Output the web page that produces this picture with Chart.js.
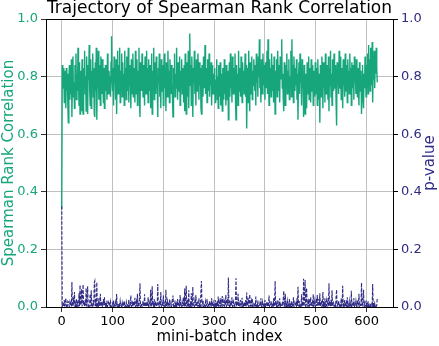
<!DOCTYPE html>
<html>
<head>
<meta charset="utf-8">
<script src="https://cdn.jsdelivr.net/npm/chart.js@4/dist/chart.umd.min.js"></script>
<style>
  html, body { margin: 0; padding: 0; background: #fff; }
  #wrap { width: 439px; height: 346px; }
</style>
</head>
<body>
<div id="wrap"><canvas id="rankChart" width="439" height="346"></canvas></div>
<script>
// values, one per mini-batch
const spearman = [
  0.34, 0.84, 0.80, 0.76, 0.83, 0.71, 0.82, 0.78, 0.69, 0.83, 0.75, 0.81, 0.70, 0.64, 0.79, 0.84, 0.72, 0.80, 0.74, 0.86,
  0.66, 0.80, 0.87, 0.73, 0.78, 0.69, 0.84, 0.77, 0.88, 0.72, 0.81, 0.75, 0.90, 0.79, 0.70, 0.85, 0.67, 0.82, 0.76, 0.68,
  0.86, 0.71, 0.67, 0.83, 0.77, 0.89, 0.74, 0.80, 0.68, 0.87, 0.72, 0.67, 0.84, 0.79, 0.91, 0.75, 0.70, 0.86, 0.69, 0.82,
  0.78, 0.88, 0.73, 0.83, 0.67, 0.66, 0.85, 0.75, 0.90, 0.65, 0.80, 0.76, 0.89, 0.72, 0.84, 0.79, 0.70, 0.87, 0.81, 0.74,
  0.86, 0.77, 0.71, 0.83, 0.69, 0.79, 0.84, 0.75, 0.81, 0.72, 0.88, 0.78, 0.74, 0.82, 0.76, 0.80, 0.73, 0.85, 0.94, 0.79,
  0.75, 0.83, 0.70, 0.87, 0.78, 0.81, 0.72, 0.86, 0.67, 0.80, 0.89, 0.74, 0.84, 0.77, 0.90, 0.71, 0.82, 0.79, 0.88, 0.73,
  0.85, 0.76, 0.81, 0.70, 0.89, 0.78, 0.83, 0.72, 0.87, 0.80, 0.75, 0.90, 0.71, 0.84, 0.77, 0.82, 0.69, 0.86, 0.79, 0.74,
  0.88, 0.73, 0.83, 0.78, 0.71, 0.89, 0.80, 0.74, 0.86, 0.70, 0.82, 0.77, 0.90, 0.72, 0.66, 0.85, 0.79, 0.75, 0.88, 0.81,
  0.73, 0.84, 0.78, 0.70, 0.87, 0.80, 0.74, 0.89, 0.76, 0.83, 0.71, 0.86, 0.79, 0.75, 0.84, 0.69, 0.81, 0.88, 0.67, 0.82,
  0.77, 0.90, 0.72, 0.85, 0.79, 0.74, 0.87, 0.81, 0.76, 0.66, 0.83, 0.78, 0.88, 0.73, 0.82, 0.69, 0.86, 0.79, 0.75, 0.84,
  0.70, 0.81, 0.88, 0.76, 0.83, 0.68, 0.85, 0.79, 0.73, 0.89, 0.77, 0.82, 0.71, 0.86, 0.80, 0.74, 0.84, 0.78, 0.72, 0.66,
  0.83, 0.77, 0.88, 0.73, 0.81, 0.76, 0.90, 0.79, 0.72, 0.85, 0.80, 0.75, 0.87, 0.70, 0.82, 0.78, 0.86, 0.74, 0.83, 0.79,
  0.71, 0.84, 0.68, 0.88, 0.76, 0.67, 0.85, 0.80, 0.73, 0.89, 0.69, 0.82, 0.95, 0.77, 0.84, 0.70, 0.87, 0.79, 0.66, 0.83,
  0.78, 0.89, 0.74, 0.82, 0.70, 0.86, 0.79, 0.75, 0.88, 0.81, 0.72, 0.85, 0.77, 0.83, 0.69, 0.67, 0.84, 0.79, 0.73, 0.87,
  0.80, 0.76, 0.91, 0.74, 0.83, 0.78, 0.71, 0.86, 0.80, 0.75, 0.88, 0.73, 0.82, 0.77, 0.85, 0.70, 0.84, 0.79, 0.74, 0.81,
  0.76, 0.83, 0.71, 0.79, 0.74, 0.86, 0.72, 0.80, 0.69, 0.84, 0.77, 0.73, 0.85, 0.70, 0.81, 0.75, 0.68, 0.83, 0.78, 0.72,
  0.86, 0.74, 0.80, 0.70, 0.84, 0.77, 0.72, 0.82, 0.65, 0.79, 0.85, 0.73, 0.88, 0.76, 0.81, 0.71, 0.87, 0.78, 0.74, 0.83,
  0.79, 0.88, 0.72, 0.65, 0.84, 0.77, 0.81, 0.70, 0.89, 0.75, 0.83, 0.78, 0.73, 0.87, 0.80, 0.71, 0.85, 0.76, 0.82, 0.74,
  0.80, 0.88, 0.73, 0.84, 0.62, 0.78, 0.83, 0.71, 0.89, 0.76, 0.68, 0.85, 0.79, 0.74, 0.87, 0.72, 0.82, 0.77, 0.86, 0.80,
  0.75, 0.84, 0.70, 0.88, 0.78, 0.82, 0.73, 0.87, 0.80, 0.93, 0.76, 0.83, 0.71, 0.86, 0.79, 0.74, 0.88, 0.81, 0.77, 0.84,
  0.72, 0.85, 0.79, 0.76, 0.89, 0.74, 0.93, 0.81, 0.70, 0.86, 0.78, 0.83, 0.73, 0.88, 0.80, 0.75, 0.84, 0.71, 0.87, 0.77,
  0.67, 0.82, 0.78, 0.86, 0.73, 0.89, 0.80, 0.75, 0.84, 0.71, 0.87, 0.79, 0.83, 0.93, 0.76, 0.81, 0.72, 0.68, 0.85, 0.78,
  0.70, 0.84, 0.77, 0.88, 0.74, 0.82, 0.79, 0.86, 0.72, 0.80, 0.76, 0.89, 0.73, 0.93, 0.78, 0.84, 0.71, 0.87, 0.80, 0.75,
  0.83, 0.77, 0.86, 0.72, 0.81, 0.65, 0.79, 0.85, 0.74, 0.88, 0.78, 0.82, 0.70, 0.86, 0.76, 0.80, 0.66, 0.84, 0.73, 0.67,
  0.81, 0.76, 0.69, 0.85, 0.79, 0.74, 0.87, 0.72, 0.83, 0.78, 0.71, 0.86, 0.80, 0.75, 0.84, 0.70, 0.82, 0.77, 0.73, 0.85,
  0.79, 0.74, 0.83, 0.70, 0.86, 0.77, 0.72, 0.81, 0.64, 0.84, 0.78, 0.73, 0.87, 0.80, 0.69, 0.85, 0.76, 0.82, 0.71, 0.88,
  0.78, 0.74, 0.84, 0.80, 0.72, 0.87, 0.68, 0.83, 0.77, 0.89, 0.73, 0.81, 0.70, 0.86, 0.79, 0.75, 0.88, 0.82, 0.76, 0.84,
  0.71, 0.63, 0.85, 0.78, 0.82, 0.74, 0.89, 0.80, 0.76, 0.87, 0.72, 0.83, 0.79, 0.69, 0.86, 0.77, 0.81, 0.73, 0.88, 0.80,
  0.75, 0.84, 0.71, 0.86, 0.79, 0.82, 0.74, 0.88, 0.77, 0.83, 0.70, 0.85, 0.80, 0.76, 0.84, 0.72, 0.87, 0.78, 0.81, 0.74,
  0.86, 0.79, 0.73, 0.83, 0.77, 0.70, 0.85, 0.80, 0.75, 0.82, 0.67, 0.78, 0.84, 0.72, 0.69, 0.81, 0.76, 0.87, 0.80, 0.73,
  0.84, 0.78, 0.88, 0.74, 0.91, 0.80, 0.86, 0.75, 0.90, 0.82, 0.77, 0.92, 0.71, 0.85, 0.79, 0.89, 0.76, 0.87, 0.81, 0.90,
  0.83, 0.78
];

const pValues = [
  0.350, 0.002, 0.006, 0.010, 0.003, 0.024, 0.005, 0.008, 0.030, 0.002, 0.012, 0.004, 0.020, 0.018, 0.007, 0.001, 0.016, 0.006, 0.014, 0.002,
  0.087, 0.006, 0.002, 0.022, 0.008, 0.052, 0.003, 0.010, 0.001, 0.028, 0.006, 0.014, 0.001, 0.009, 0.048, 0.003, 0.076, 0.007, 0.013, 0.062,
  0.002, 0.034, 0.078, 0.006, 0.011, 0.001, 0.024, 0.005, 0.066, 0.002, 0.030, 0.072, 0.003, 0.009, 0.001, 0.016, 0.045, 0.002, 0.058, 0.006,
  0.008, 0.002, 0.025, 0.005, 0.084, 0.090, 0.003, 0.015, 0.001, 0.086, 0.006, 0.012, 0.001, 0.030, 0.003, 0.008, 0.046, 0.002, 0.006, 0.018,
  0.002, 0.010, 0.028, 0.005, 0.034, 0.008, 0.002, 0.014, 0.006, 0.022, 0.001, 0.009, 0.016, 0.005, 0.011, 0.004, 0.018, 0.002, 0.001, 0.007,
  0.012, 0.004, 0.024, 0.001, 0.007, 0.005, 0.016, 0.002, 0.045, 0.004, 0.001, 0.012, 0.003, 0.008, 0.001, 0.020, 0.005, 0.007, 0.001, 0.014,
  0.002, 0.010, 0.004, 0.022, 0.001, 0.006, 0.003, 0.016, 0.001, 0.005, 0.012, 0.001, 0.026, 0.002, 0.008, 0.004, 0.040, 0.001, 0.006, 0.014,
  0.001, 0.020, 0.004, 0.007, 0.032, 0.001, 0.005, 0.018, 0.002, 0.046, 0.004, 0.009, 0.001, 0.030, 0.082, 0.002, 0.007, 0.013, 0.001, 0.005,
  0.022, 0.002, 0.008, 0.044, 0.001, 0.005, 0.018, 0.001, 0.012, 0.004, 0.034, 0.002, 0.008, 0.016, 0.002, 0.060, 0.005, 0.001, 0.072, 0.006,
  0.010, 0.001, 0.028, 0.002, 0.007, 0.020, 0.001, 0.005, 0.012, 0.080, 0.004, 0.008, 0.001, 0.024, 0.005, 0.052, 0.002, 0.007, 0.014, 0.002,
  0.040, 0.004, 0.001, 0.012, 0.005, 0.060, 0.002, 0.007, 0.020, 0.001, 0.009, 0.004, 0.026, 0.002, 0.005, 0.016, 0.002, 0.008, 0.022, 0.040,
  0.004, 0.010, 0.001, 0.022, 0.005, 0.012, 0.001, 0.007, 0.028, 0.002, 0.005, 0.014, 0.001, 0.042, 0.004, 0.008, 0.002, 0.018, 0.005, 0.007,
  0.034, 0.002, 0.064, 0.001, 0.012, 0.074, 0.002, 0.006, 0.026, 0.001, 0.058, 0.004, 0.001, 0.010, 0.002, 0.048, 0.001, 0.007, 0.070, 0.005,
  0.008, 0.001, 0.020, 0.004, 0.042, 0.002, 0.007, 0.014, 0.001, 0.005, 0.030, 0.002, 0.010, 0.004, 0.060, 0.090, 0.002, 0.007, 0.024, 0.001,
  0.005, 0.012, 0.001, 0.018, 0.004, 0.008, 0.028, 0.002, 0.005, 0.014, 0.001, 0.022, 0.004, 0.009, 0.002, 0.030, 0.002, 0.006, 0.016, 0.004,
  0.010, 0.004, 0.024, 0.006, 0.016, 0.002, 0.020, 0.004, 0.036, 0.002, 0.008, 0.018, 0.001, 0.030, 0.005, 0.012, 0.038, 0.004, 0.007, 0.020,
  0.002, 0.016, 0.005, 0.042, 0.002, 0.009, 0.026, 0.004, 0.102, 0.007, 0.002, 0.022, 0.001, 0.012, 0.005, 0.034, 0.002, 0.008, 0.018, 0.004,
  0.007, 0.001, 0.030, 0.100, 0.002, 0.010, 0.004, 0.046, 0.001, 0.014, 0.005, 0.008, 0.024, 0.001, 0.005, 0.032, 0.002, 0.012, 0.005, 0.018,
  0.005, 0.001, 0.024, 0.002, 0.050, 0.008, 0.004, 0.032, 0.001, 0.012, 0.044, 0.002, 0.007, 0.020, 0.001, 0.028, 0.005, 0.010, 0.002, 0.005,
  0.014, 0.002, 0.036, 0.001, 0.007, 0.004, 0.022, 0.001, 0.005, 0.001, 0.012, 0.004, 0.030, 0.001, 0.008, 0.018, 0.001, 0.005, 0.010, 0.002,
  0.024, 0.002, 0.008, 0.012, 0.001, 0.018, 0.001, 0.005, 0.040, 0.002, 0.007, 0.004, 0.022, 0.001, 0.005, 0.014, 0.002, 0.030, 0.001, 0.010,
  0.090, 0.004, 0.008, 0.001, 0.024, 0.001, 0.005, 0.014, 0.002, 0.030, 0.001, 0.008, 0.004, 0.001, 0.012, 0.005, 0.026, 0.056, 0.002, 0.008,
  0.046, 0.002, 0.010, 0.001, 0.020, 0.005, 0.008, 0.002, 0.028, 0.004, 0.012, 0.001, 0.022, 0.001, 0.007, 0.002, 0.034, 0.001, 0.005, 0.014,
  0.005, 0.010, 0.002, 0.030, 0.004, 0.070, 0.007, 0.002, 0.020, 0.001, 0.008, 0.004, 0.044, 0.002, 0.012, 0.005, 0.098, 0.002, 0.024, 0.094,
  0.005, 0.012, 0.066, 0.002, 0.008, 0.018, 0.001, 0.028, 0.005, 0.008, 0.034, 0.002, 0.005, 0.014, 0.002, 0.044, 0.004, 0.010, 0.022, 0.001,
  0.008, 0.020, 0.004, 0.042, 0.002, 0.010, 0.028, 0.005, 0.048, 0.002, 0.008, 0.022, 0.001, 0.005, 0.052, 0.002, 0.012, 0.005, 0.030, 0.001,
  0.008, 0.022, 0.002, 0.005, 0.030, 0.001, 0.082, 0.005, 0.010, 0.001, 0.026, 0.004, 0.058, 0.002, 0.008, 0.014, 0.001, 0.005, 0.012, 0.002,
  0.036, 0.060, 0.002, 0.008, 0.004, 0.022, 0.001, 0.005, 0.012, 0.002, 0.030, 0.005, 0.008, 0.074, 0.002, 0.010, 0.004, 0.024, 0.001, 0.005,
  0.014, 0.002, 0.034, 0.001, 0.007, 0.004, 0.020, 0.001, 0.010, 0.005, 0.056, 0.002, 0.005, 0.012, 0.002, 0.030, 0.001, 0.008, 0.005, 0.020,
  0.002, 0.008, 0.024, 0.004, 0.010, 0.046, 0.002, 0.005, 0.014, 0.004, 0.084, 0.007, 0.002, 0.030, 0.060, 0.005, 0.012, 0.001, 0.005, 0.022,
  0.002, 0.008, 0.001, 0.020, 0.001, 0.005, 0.002, 0.014, 0.001, 0.005, 0.010, 0.001, 0.080, 0.002, 0.008, 0.001, 0.012, 0.002, 0.005, 0.001,
  0.005, 0.030
];

const xTicks = [0, 100, 200, 300, 400, 500, 600];
const yTicks = [0.0, 0.2, 0.4, 0.6, 0.8, 1.0];

const GREEN = "#17a67c";
const NAVY = "#2f2b86";
const FONT = "'DejaVu Sans', sans-serif";

document.addEventListener("DOMContentLoaded", function () {
	const ctx = document.getElementById("rankChart").getContext("2d");

	// mini-batch index of every value
	const batchIndex = spearman.map((v, i) => i);

	// draws the top spine and the right-hand axis title (reads bottom to top)
	const framePlugin = {
		id: "frame",
		afterDraw(chart) {
			const c = chart.ctx;
			const a = chart.chartArea;
			c.save();
			c.strokeStyle = "#000";
			c.lineWidth = 1;
			c.beginPath();
			c.moveTo(a.left, a.top + 0.5);
			c.lineTo(a.right, a.top + 0.5);
			c.stroke();

			c.translate(430, (a.top + a.bottom) / 2);
			c.rotate(-Math.PI / 2);
			c.fillStyle = NAVY;
			c.font = "15px " + FONT;
			c.textAlign = "center";
			c.textBaseline = "middle";
			c.fillText("p-value", 0, 0);
			c.restore();
		},
	};

	const rankChart = new Chart(ctx, {
		type: "line",
		data: {
			labels: batchIndex,
			datasets: [
				{
					label: "Spearman",
					data: batchIndex.map((i) => ({ x: i, y: spearman[i] })),
					borderColor: GREEN,
					borderWidth: 1.4,
					pointRadius: 0,
					yAxisID: "y",
					order: 2,
				},
				{
					label: "p-value",
					data: batchIndex.map((i) => ({ x: i, y: pValues[i] })),
					borderColor: NAVY,
					borderWidth: 1.1,
					borderDash: [3.5, 1.5],
					pointRadius: 0,
					yAxisID: "y1",
					order: 1,
				},
			],
		},
		options: {
			responsive: false,
			animation: false,
			layout: { padding: 0 },
			plugins: {
				legend: { display: false },
				tooltip: { enabled: false },
				title: {
					display: true,
					text: "Trajectory of Spearman Rank Correlation",
					color: "#000",
					font: { family: FONT, size: 17, weight: "normal", lineHeight: 1 },
					padding: { top: 0, bottom: 2 },
				},
			},
			scales: {
				x: {
					type: "linear",
					min: -31,
					max: 652,
					afterBuildTicks: (s) => {
						s.ticks = xTicks.map((v) => ({ value: v }));
					},
					afterFit: (s) => {
						s.height = 39;
					},
					ticks: {
						color: "#000",
						font: { family: FONT, size: 13 },
						padding: 2,
						maxRotation: 0,
						autoSkip: false,
					},
					grid: { color: "#b0b0b0", lineWidth: 0.8, tickColor: "#000", tickLength: 5 },
					border: { color: "#000", width: 1 },
					title: {
						display: true,
						text: "mini-batch index",
						color: "#000",
						font: { family: FONT, size: 15 },
						padding: { top: 0, bottom: 0 },
					},
				},
				y: {
					position: "left",
					min: 0,
					max: 1,
					afterBuildTicks: (s) => {
						s.ticks = yTicks.map((v) => ({ value: v }));
					},
					afterFit: (s) => {
						s.width = 46;
					},
					ticks: {
						color: GREEN,
						font: { family: FONT, size: 13 },
						padding: 3,
						callback: (v) => v.toFixed(1),
					},
					grid: { color: "#b0b0b0", lineWidth: 0.8, tickColor: "#000", tickLength: 5 },
					border: { color: "#000", width: 1 },
					title: {
						display: true,
						text: "Spearman Rank Correlation",
						color: GREEN,
						font: { family: FONT, size: 15 },
						padding: { top: 0, bottom: 0 },
					},
				},
				y1: {
					position: "right",
					min: 0,
					max: 1,
					afterBuildTicks: (s) => {
						s.ticks = yTicks.map((v) => ({ value: v }));
					},
					afterFit: (s) => {
						s.width = 46;
					},
					ticks: {
						color: NAVY,
						font: { family: FONT, size: 13 },
						padding: 3,
						callback: (v) => v.toFixed(1),
					},
					grid: { drawOnChartArea: false, tickColor: "#000", tickLength: 5 },
					border: { color: "#000", width: 1 },
				},
			},
		},
		plugins: [framePlugin],
	});
});
</script>
</body>
</html>
